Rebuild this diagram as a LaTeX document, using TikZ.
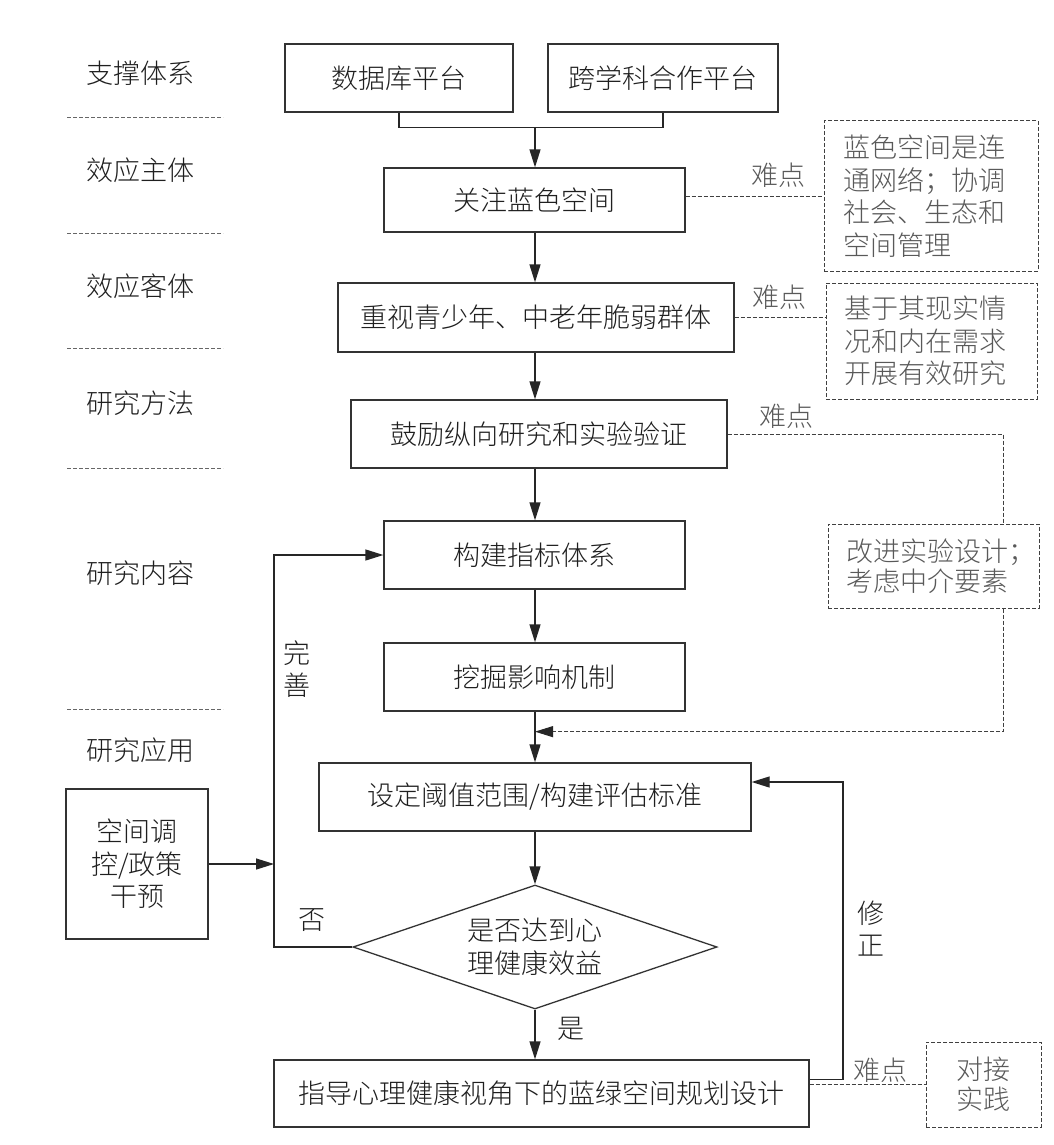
\documentclass[tikz,border=0pt]{standalone}
\usepackage{fontspec}
\setmainfont{Noto Sans CJK SC}[UprightFont=* Light]
\usetikzlibrary{arrows.meta,shapes.geometric,calc}
\begin{document}
\begin{tikzpicture}[x=1pt,y=-1pt,
  every node/.style={font=\fontsize{27}{32.5}\selectfont, text=black!88, align=center, inner sep=0pt},
  box/.style={draw=black!80, line width=1.3pt, minimum height=68pt},
  dbox/.style={draw=black!75, line width=1pt, dash pattern=on 4pt off 2pt, text=black!65},
  sep/.style={draw=black!60, line width=0.9pt, dash pattern=on 4pt off 2pt},
  conn/.style={draw=black!85, line width=1.3pt},
  tipa/.style={-{Triangle[length=18pt,width=11pt]}},
  arr/.style={conn, tipa},
  dconn/.style={draw=black!75, line width=1pt, dash pattern=on 4pt off 2pt},
  dtip/.style={-{Triangle[length=18pt,width=11pt,color=black!85]}},
  glbl/.style={text=black!65}]
\fill[white] (0,0) rectangle (1053,1145);
\useasboundingbox (0,0) rectangle (1053,1145);

% left column labels
\node (l1) at (140,73) {支撑体系};
\node (l2) at (140,170) {效应主体};
\node (l3) at (140,286) {效应客体};
\node (l4) at (140,403) {研究方法};
\node (l5) at (140,573) {研究内容};
\node (l6) at (140,750) {研究应用};
\foreach \yy in {117,233,348,468,709} \draw[sep] (67,\yy) -- (223,\yy);

% main boxes
\node[box, minimum width=228pt] (db) at (399,78) {数据库平台};
\node[box, minimum width=230pt] (kx) at (663,78) {跨学科合作平台};
\node[box, minimum width=301pt, minimum height=64pt] (gz) at (534.5,200) {关注蓝色空间};
\node[box, minimum width=396pt, minimum height=69pt] (zs) at (536,317.5) {重视青少年、中老年脆弱群体};
\node[box, minimum width=376pt] (gl) at (539,434) {鼓励纵向研究和实验验证};
\node[box, minimum width=301pt] (gj) at (534.5,555) {构建指标体系};
\node[box, minimum width=301pt] (wj) at (534.5,677) {挖掘影响机制};
\node[box, minimum width=432pt] (sd) at (535,797) {设定阈值范围/构建评估标准};
\node[box, diamond, minimum width=364pt, minimum height=124pt, aspect=2.9] (dm) at (535,947) {是否达到心\\理健康效益};
\node[box, minimum width=535pt, minimum height=67pt] (bt) at (541.5,1093.5) {指导心理健康视角下的蓝绿空间规划设计};
\node[box, minimum width=142pt, minimum height=150pt] (kj) at (137,864) {空间调\\控/政策\\干预};

% dashed boxes
\node[dbox, minimum width=214pt, minimum height=150pt, text width=175pt, align=left] (d1) at (931,196) {蓝色空间是连\\通网络；协调\\社会、生态和\\空间管理};
\node[dbox, minimum width=211pt, minimum height=116pt, text width=175pt, align=left] (d2) at (931.5,341) {基于其现实情\\况和内在需求\\开展有效研究};
\node[dbox, minimum width=211pt, minimum height=84pt, text width=175pt, align=left, font=\fontsize{27}{30}\selectfont] (d3) at (933.5,566) {改进实验设计；\\考虑中介要素};
\node[dbox, minimum width=115pt, minimum height=85pt, font=\fontsize{27}{30}\selectfont] (d4) at (983.5,1084.5) {对接\\实践};

% labels
\node[glbl] (n1) at (778,175) {难点};
\node[glbl] (n2) at (779,297) {难点};
\node[glbl] (n3) at (786,416) {难点};
\node[glbl] (n4) at (880,1070) {难点};
\node (ws) at (297,669) {完\\善};
\node (xz) at (871,928.5) {修\\正};
\node (no) at (312,920) {否};
\node (yes) at (571,1029) {是};

% connectors
\coordinate (ax) at (535,0);
\path (db.south) ++(0,15) coordinate (tj);
\draw[conn] (db.south) -- (tj) -| (kx.south);
\draw[arr] (tj -| ax) -- (ax |- gz.north);
\draw[arr] (ax |- gz.south) -- (ax |- zs.north);
\draw[arr] (ax |- zs.south) -- (ax |- gl.north);
\draw[arr] (ax |- gl.south) -- (ax |- gj.north);
\draw[arr] (ax |- gj.south) -- (ax |- wj.north);
\draw[arr] (ax |- wj.south) -- (ax |- sd.north);
\draw[arr] (ax |- sd.south) -- (dm.north);
\draw[arr] (dm.south) -- (ax |- bt.north);

\coordinate (xl) at (274,555);
\draw[arr] (dm.west) -| (xl) -- (gj.west);
\draw[arr] (kj.east) -- (kj.east -| xl);

\coordinate (xr) at (843,782);
\draw[arr] ($(bt.east)+(0,-14)$) -| (xr) -- (xr -| sd.east);

\draw[dconn] (d1.west -| gz.east) -- (d1.west);
\draw[dconn] (zs.east) -- (zs.east -| d2.west);
\coordinate (xd) at (1003,0);
\path (ax |- wj.south) ++(0,20) coordinate (mj);
\draw[dconn] (gl.east) -| (xd |- d3.north);
\draw[dconn, dtip] (xd |- d3.south) |- (mj);
\draw[dconn] (d4.west -| bt.east) -- (d4.west);
\end{tikzpicture}
\end{document}
